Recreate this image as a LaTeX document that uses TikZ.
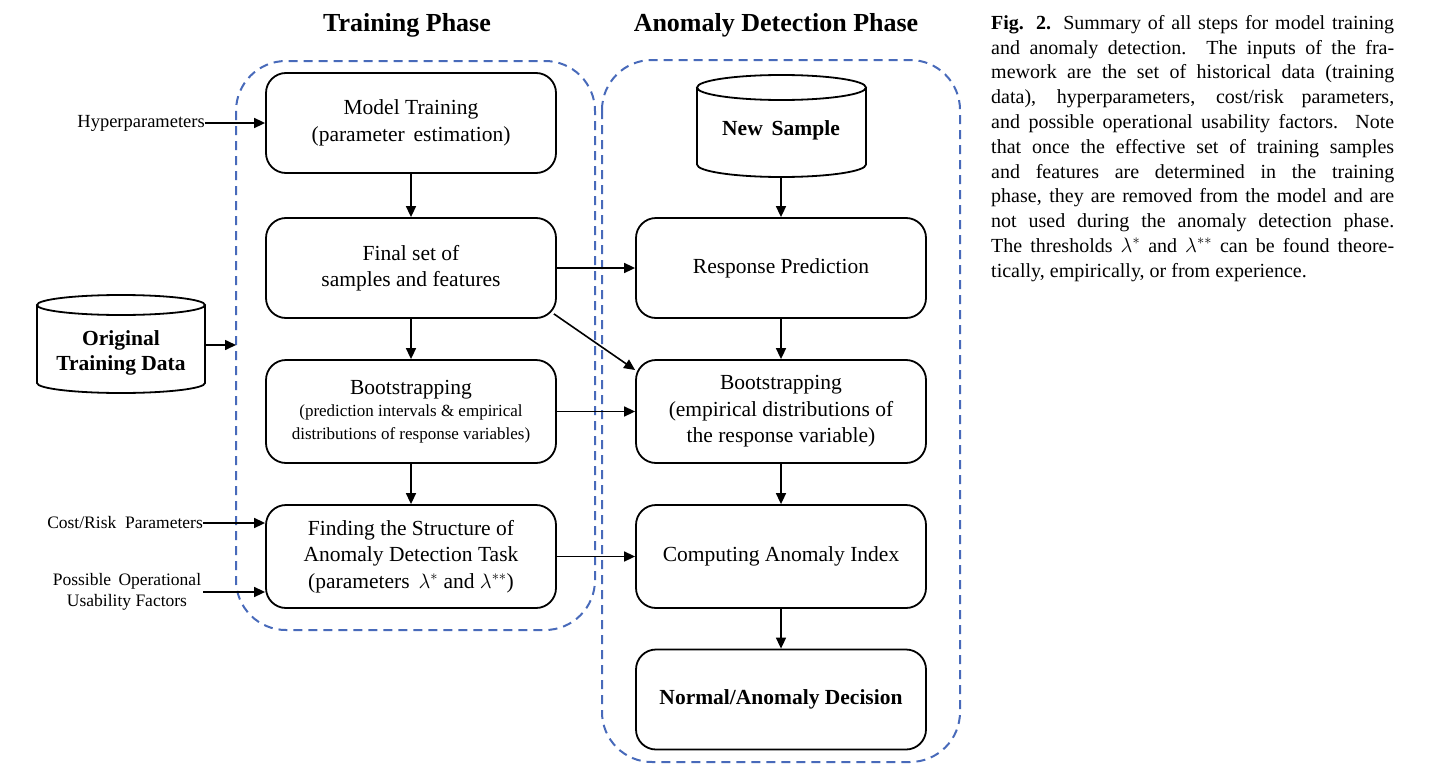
\documentclass[tikz,border=0pt]{standalone}
\usepackage{fontspec}
\setmainfont{Liberation Serif}
\usetikzlibrary{arrows.meta}
\definecolor{phblue}{RGB}{72,106,186}
\newcommand{\capline}[1]{\makebox[403pt][s]{#1}}
\begin{document}
\begin{tikzpicture}[x=1pt,y=-1pt,
  box/.style={draw,line width=1.8pt,rounded corners=20pt,minimum width=290pt,minimum height=100pt,align=center,font=\fontsize{21.5}{26.5}\selectfont,inner sep=0pt},
  arr/.style={line width=1.6pt,-{Triangle[length=11pt,width=10pt]}},
  phasebox/.style={draw=phblue,dash pattern=on 9pt off 6pt,line width=2pt,rounded corners=50pt},
  lbl/.style={font=\fontsize{17.5}{21}\selectfont,inner sep=0pt,align=center},
  ttl/.style={font=\fontsize{26}{30}\selectfont\bfseries,inner sep=0pt},
  cyl/.style={draw,line width=1.8pt},
  cyltext/.style={minimum width=169pt,align=center,inner sep=0pt,font=\fontsize{21.5}{25}\selectfont\bfseries},
]
\useasboundingbox (0,0) rectangle (1451,779);
% titles
\node[ttl] (t1) at (407,25) {Training Phase};
\node[ttl] (t2) at (776,25) {Anomaly Detection Phase};
% phase boxes
\draw[phasebox] (236,61) rectangle (595,630);
\draw[phasebox] (602,60) rectangle (960,762);
\coordinate (leftin) at (236,345);
% left column
\node[box] (mt) at (411,123) {Model Training\\(parameter\, estimation)};
\node[box] (fs) at (411,268) {Final set of\\samples and features};
\node[box,minimum height=103pt] (bl) at (411,411.5) {Bootstrapping\\[-4pt]{\fontsize{17}{21}\selectfont(prediction intervals \& empirical}\\[-4pt]{\fontsize{17}{21}\selectfont distributions of response variables)}};
\node[box,minimum height=103pt] (fd) at (411,556.5) {Finding the Structure of\\Anomaly Detection Task\\(parameters\, $\lambda^{*}$ and $\lambda^{**}$)};
% right column
\node[box] (rp) at (781,268) {Response Prediction};
\node[box,minimum height=103pt] (br) at (781,411.5) {Bootstrapping\\(empirical distributions of\\the response variable)};
\node[box,minimum height=103pt] (ca) at (781,556.5) {Computing Anomaly Index};
\node[box] (nd) at (781,699.5) {\textbf{Normal/Anomaly Decision}};
% cylinders
\node[cyltext,minimum height=94pt] (ns) at (781,130) {New\, Sample};
\draw[cyl] (781.5,87.5) ellipse [x radius=84.5pt,y radius=12.5pt];
\draw[cyl] (697,87.5) -- (697,164.5) arc[start angle=180,end angle=360,x radius=84.5pt,y radius=12.5pt] -- (866,87.5);
\node[cyltext,minimum width=168pt,minimum height=82pt] (od) at (121,353) {Original\\Training Data};
\draw[cyl] (121,305) ellipse [x radius=84pt,y radius=10pt];
\draw[cyl] (37,305) -- (37,383) arc[start angle=180,end angle=360,x radius=84pt,y radius=10pt] -- (205,305);
% left labels
\node[lbl,anchor=east,font=\fontsize{18.5}{21}\selectfont] (hp) at (205,123) {Hyperparameters};
\node[lbl,anchor=east] (cr) at (203,523) {Cost/Risk\ \ Parameters};
\node[lbl] (po) at (127,592) {Possible\, Operational\\Usability Factors};
% arrows
\draw[arr] (hp.east) -- (mt.west);
\draw[arr] (cr.east) -- (fd.west |- cr.east);
\draw[arr] (203,592) coordinate (poe) -- (fd.west |- poe);
\draw[arr] (od.east |- leftin) -- (leftin);
\draw[arr] (mt) -- (fs);
\draw[arr] (fs) -- (bl);
\draw[arr] (bl) -- (fd);
\draw[arr] (fs.east) -- (rp.west);
\draw[arr] (fs.south east) ++(-3,-5) -- (br.north west |- 0,370) ;
\draw[arr] (bl.east) -- (br.west);
\draw[arr] (fd.east) -- (ca.west);
\draw[arr] (ns.south) -- (rp.north);
\draw[arr] (rp) -- (br);
\draw[arr] (br) -- (ca);
\draw[arr] (ca) -- (nd);
% caption
\node[anchor=north west,align=left,inner sep=0pt,font=\fontsize{20}{24.8}\selectfont] (cap) at (991,15) {\capline{\textbf{Fig. 2.} Summary of all steps for model training}\\
\capline{and anomaly detection. The inputs of the fra-}\\
\capline{mework are the set of historical data (training}\\
\capline{data), hyperparameters, cost/risk parameters,}\\
\capline{and possible operational usability factors. Note}\\
\capline{that once the effective set of training samples}\\
\capline{and features are determined in the training}\\
\capline{phase, they are removed from the model and are}\\
\capline{not used during the anomaly detection phase.}\\
\capline{The thresholds $\lambda^{*}$ and $\lambda^{**}$ can be found theore-}\\
tically, empirically, or from experience.};
\end{tikzpicture}
\end{document}
